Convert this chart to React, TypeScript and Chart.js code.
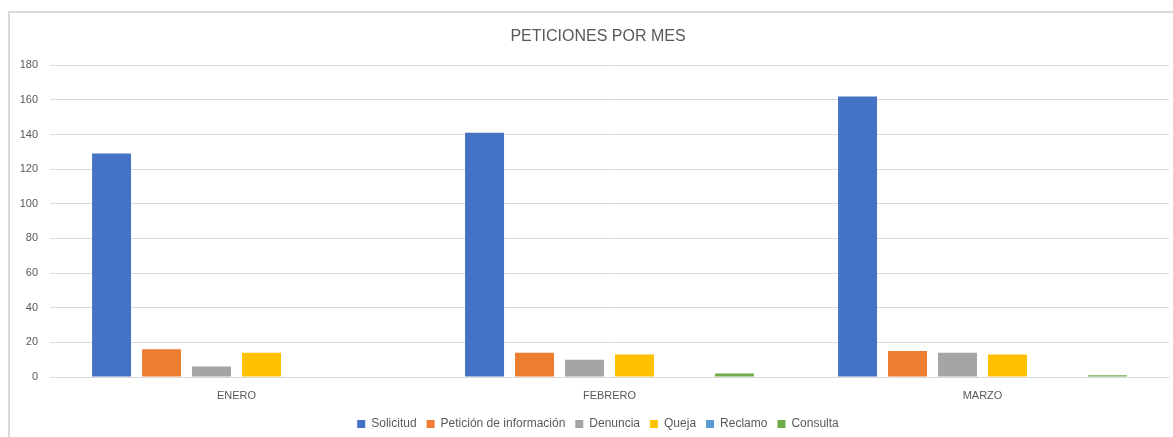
import React, { useEffect, useRef } from "react";
import { Chart, registerables } from "chart.js";

Chart.register(...registerables);

const categories = ["ENERO", "FEBRERO", "MARZO"];
const seriesNames = ["Solicitud", "Petición de información", "Denuncia", "Queja", "Reclamo", "Consulta"];
const solicitud = [129, 141, 162];
const peticionInfo = [16, 14, 15];
const denuncia = [6, 10, 14];
const queja = [14, 13, 13];
const reclamo = [0, 0, 0];
const consulta = [0, 2, 1];
const seriesColors = ["#4472C4", "#ED7D31", "#A5A5A5", "#FFC000", "#5B9BD5", "#70AD47"];
const yTicks = [0, 20, 40, 60, 80, 100, 120, 140, 160, 180];

const FONT = "'Liberation Sans', Arial, sans-serif";

export default function App() {
  const ref = useRef<HTMLCanvasElement | null>(null);
  useEffect(() => {
    if (!ref.current) return;
    const values = [solicitud, peticionInfo, denuncia, queja, reclamo, consulta];
    const mctx = document.createElement("canvas").getContext("2d")!;
    mctx.font = "normal 11px " + FONT;
    const widest = Math.max(...yTicks.map((v) => mctx.measureText(String(v)).width));
    const chart = new Chart(ref.current, {
      type: "bar",
      data: {
        labels: categories,
        datasets: seriesNames.map((name, i) => ({
          label: name,
          data: values[i],
          backgroundColor: seriesColors[i],
          borderWidth: 0,
          categoryPercentage: 0.804,
          barPercentage: 0.78,
        })),
      },
      options: {
        responsive: false,
        animation: false,
        maintainAspectRatio: false,
        layout: { padding: { left: 17, right: 16, top: 0, bottom: -3 } },
        plugins: {
          title: {
            display: true,
            text: "PETICIONES POR MES",
            color: "#595959",
            font: { family: FONT, size: 16, weight: "normal" },
            padding: { top: 14, bottom: 19 },
          },
          legend: {
            position: "bottom",
            labels: {
              boxWidth: 8,
              boxHeight: 8,
              color: "#595959",
              font: { family: FONT, size: 12 },
              padding: 10,
            },
          },
          tooltip: { enabled: false },
        },
        scales: {
          x: {
            grid: { display: false, drawTicks: false },
            border: { display: true, color: "#d9d9d9" },
            ticks: { color: "#595959", font: { family: FONT, size: 11 }, padding: 12 },
            afterFit: (s: any) => { s.height = 31; },
          },
          y: {
            min: 0,
            max: 180,
            afterBuildTicks: (s: any) => { s.ticks = yTicks.map((v) => ({ value: v })); },
            grid: { color: "#d9d9d9", drawTicks: false },
            border: { display: false },
            ticks: {
              color: "#595959",
              font: { family: FONT, size: 11 },
              mirror: true,
              crossAlign: "far",
              padding: -12 - widest,
            },
            afterFit: (s: any) => { s.width = 23; },
          },
        },
      },
    });
    return () => chart.destroy();
  }, []);
  return (
    <div
      style={{
        position: "absolute",
        left: 8,
        top: 11,
        width: 1165,
        height: 426,
        borderLeft: "2px solid #d9d9d9",
        borderTop: "2px solid #d9d9d9",
        boxSizing: "border-box",
        background: "#fff",
        overflow: "hidden",
      }}
    >
      <canvas ref={ref} width={1175} height={424} style={{ display: "block" }} />
    </div>
  );
}
